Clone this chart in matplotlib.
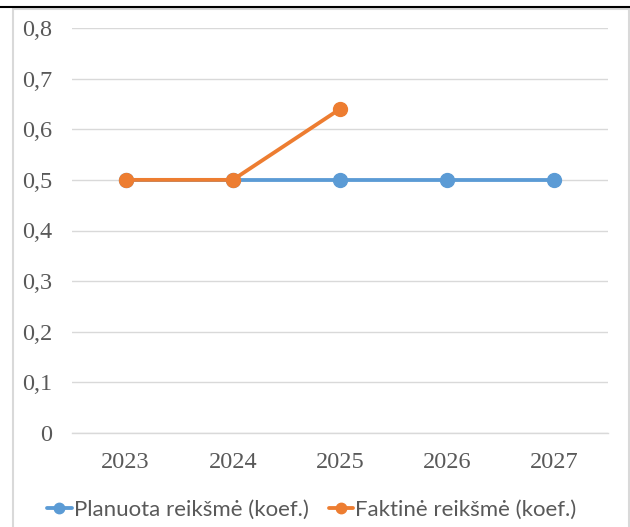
import matplotlib
matplotlib.use("Agg")
import matplotlib.pyplot as plt
from matplotlib.patches import Rectangle
from matplotlib.lines import Line2D

# data
years = ["2023", "2024", "2025", "2026", "2027"]
planned = [0.5, 0.5, 0.5, 0.5, 0.5]
actual = [0.5, 0.5, 0.64]
y_ticks = [0, 0.1, 0.2, 0.3, 0.4, 0.5, 0.6, 0.7, 0.8]
y_labels = ["0", "0,1", "0,2", "0,3", "0,4", "0,5", "0,6", "0,7", "0,8"]
series_names = ["Planuota reikšmė (koef.)", "Faktinė reikšmė (koef.)"]

BLUE = "#5B9BD5"
ORANGE = "#ED7D31"
GRID = "#D9D9D9"
TEXT = "#595959"

plt.rcParams["font.family"] = "Liberation Serif"

W, H = 630, 527
fig = plt.figure(figsize=(W / 100, H / 100), dpi=100)

# chart frame and the page rule above it
fig.add_artist(Rectangle((13 / W, -0.01), (629 - 13) / W, (H - 9) / H + 0.01,
                         transform=fig.transFigure, fill=False,
                         edgecolor=GRID, linewidth=1.5))
fig.add_artist(Line2D([0, 1], [(H - 7) / H] * 2, transform=fig.transFigure,
                      color="black", linewidth=1.5))

ax = fig.add_axes([72 / W, (H - 433) / H, 536 / W, 405 / H])
x = list(range(len(years)))

ax.plot(x, planned, color=BLUE, linewidth=2.75, marker="o", markersize=10,
        label=series_names[0], solid_capstyle="round", zorder=3)
ax.plot(x[:len(actual)], actual, color=ORANGE, linewidth=2.75, marker="o",
        markersize=10, label=series_names[1], solid_capstyle="round", zorder=4)

ax.set_xlim(-0.5, len(years) - 0.5)
ax.set_ylim(0, 0.8)
ax.set_xticks(x)
ax.set_xticklabels(years, fontfamily="Liberation Serif")
ax.set_yticks(y_ticks)
ax.set_yticklabels(y_labels, fontfamily="Liberation Serif")
ax.yaxis.grid(True, color=GRID, linewidth=1.0)
ax.set_axisbelow(True)
for side in ["top", "right", "left"]:
    ax.spines[side].set_visible(False)
ax.spines["bottom"].set_color(GRID)
ax.spines["bottom"].set_linewidth(1.0)
ax.tick_params(axis="both", length=0, colors=TEXT, labelsize=17.5)
ax.tick_params(axis="y", pad=14)
ax.tick_params(axis="x", pad=14)

leg = fig.legend(loc="center", bbox_to_anchor=(312 / W, (H - 510) / H), ncol=2,
                 frameon=False, handlelength=1.1, markerscale=0.75,
                 handletextpad=0.1, columnspacing=0.9,
                 prop={"family": "Lato", "size": 16})
for t in leg.get_texts():
    t.set_color(TEXT)

fig.savefig("out.png", dpi=100)
